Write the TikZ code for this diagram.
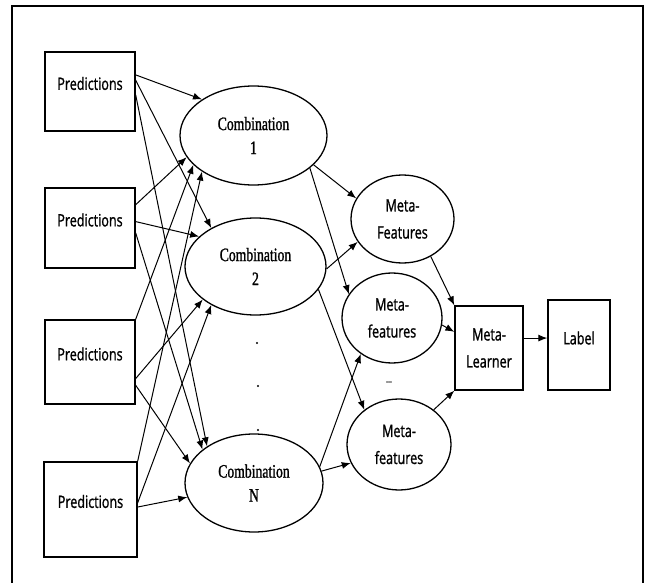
\documentclass[tikz,border=0pt]{standalone}
\usepackage{fontspec}
\setmainfont{Liberation Serif}
\newfontfamily\sansc[FakeStretch=0.74,FakeBold=1.2]{Open Sans}
\newfontfamily\serifc[FakeStretch=0.72,FakeBold=1.2]{Liberation Serif}
\usetikzlibrary{shapes.geometric,arrows.meta}
\tikzset{
  box/.style={draw, line width=1.3pt, inner sep=0pt, align=center,
    font=\sansc\fontsize{17}{27}\selectfont},
  lbl/.style={font=\sansc\fontsize{17}{27}\selectfont, inner sep=0pt},
  predbox/.style={box, minimum width=90pt,
    label={[lbl, yshift=8pt]center:Predictions}},
  comb/.style={draw, ellipse, line width=1.3pt, inner sep=0pt, align=center,
    font=\serifc\fontsize{19}{24}\selectfont},
  meta/.style={draw, ellipse, line width=1.3pt, inner sep=0pt, align=center,
    font=\sansc\fontsize{17}{27}\selectfont},
  arr/.style={-{Latex[length=9pt,width=7pt]}, line width=1pt},
}
\begin{document}
\begin{tikzpicture}[x=1pt,y=-1pt]
\useasboundingbox (0,0) rectangle (648,583);
\draw[line width=2pt] (12,583) -- (12,6) -- (643,6) -- (643,583);

% Predictions boxes
\node[predbox, minimum height=79pt] (p1) at (90,91.5) {};
\node[predbox, minimum height=80pt] (p2) at (90,228) {};
\node[predbox, minimum height=84pt] (p3) at (90,362) {};
\node[predbox, minimum width=93pt, minimum height=95pt] (p4) at (90.5,509.5) {};

% Combinations
\node[comb, minimum width=147pt, minimum height=99pt] (c1) at (253.5,135.5) {Combination\\1};
\node[comb, minimum width=141pt, minimum height=97pt] (c2) at (255.5,266.5) {Combination\\2};
\node[comb, minimum width=138pt, minimum height=98pt] (cn) at (254,483) {Combination\\N};

\fill (257,343) circle (1.1pt);
\fill (258,386) circle (1.1pt);
\fill (258,430) circle (1.1pt);

% Meta-features
\node[meta, minimum width=103pt, minimum height=88pt] (m1) at (402.5,219) {Meta-\\Features};
\node[meta, minimum width=100pt, minimum height=90pt] (m2) at (392,318) {Meta-\\features};
\node[meta, minimum width=104pt, minimum height=91pt] (m3) at (399,444.5) {Meta-\\features};
\node[font=\sansc\fontsize{10}{12}\selectfont, inner sep=0pt] (dd) at (389,382) {...};

% Meta-learner and label
\node[box, minimum width=68pt, minimum height=84pt] (ml) at (489,348) {Meta-\\Learner};
\node[box, minimum width=62pt, minimum height=90pt,
  label={[lbl, yshift=7pt]center:Label}] (lb) at (579,345) {};

% Predictions -> Combinations
\draw[arr] (p1.20) -- (c1.145);
\draw[arr] (p1.14) -- (c2.139);
\draw[arr] (p1.-4) -- (cn.142);
\draw[arr] (p2.27) -- (c1.198);
\draw[arr] (p2.8) -- (c2.152);
\draw[arr] (p2.-6) -- (cn.147);
\draw[arr] (p3.north east) -- (c1.206);
\draw[arr] (p3.-20) -- (c2.212);
\draw[arr] (p3.-27) -- (cn.163);
\draw[arr] (p4.north east) -- (c1.215);
\draw[arr] (p4.8) -- (c2.221);
\draw[arr] (p4.3) -- (cn.192);

% Combinations -> Meta-features
\draw[arr] (c1.-26) -- (m1.156);
\draw[arr] (c1.-30) -- (m2.151);
\draw[arr] (c2.-2) -- (m1.207);
\draw[arr] (c2.-20) -- (m3.135);
\draw[arr] (cn.14) -- (m2.229);
\draw[arr] (cn.10) -- (m3.201);

% Meta-features -> Meta-learner -> Label
\draw[arr] (m1.-53) -- (ml.north west);
\draw[arr] (m2.-8) -- (ml.155);
\draw[arr] (m3.45) -- (ml.south west);
\draw[arr] (ml.16) -- (ml.16 -| lb.west);
\end{tikzpicture}
\end{document}
